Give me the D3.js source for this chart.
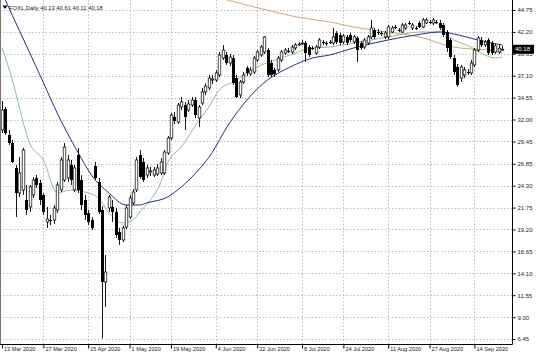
<!DOCTYPE html>
<html><head><meta charset="utf-8">
<script src="https://cdn.jsdelivr.net/npm/d3@7"></script>
<style>body{margin:0;background:#fff}svg{display:block}text{font-family:"Liberation Sans",Arial,sans-serif}</style>
</head><body><svg id="c" width="536" height="357"></svg>
<script>
const symbolTitle = "FOXL,Daily";
const lastOHLC = ["40.13","40.61","40.11","40.18"];
const open = [30.78,33.22,30.20,29.27,26.36,23.45,23.80,22.63,21.82,23.22,
25.19,24.61,23.22,20.07,20.31,20.31,21.47,23.80,24.96,25.19,
26.71,23.80,27.87,24.96,22.63,21.12,20.31,26.59,24.73,21.47,
13.09,21.70,21.82,21.24,18.91,17.98,19.49,20.65,22.29,23.80,
27.87,27.06,25.54,25.89,25.54,25.66,25.78,25.78,28.10,29.85,
32.30,31.71,33.46,33.69,33.11,33.69,34.27,32.18,33.92,35.21,
35.68,36.60,36.60,37.18,39.16,39.51,38.58,39.16,36.83,34.86,
36.37,38.00,37.30,37.53,38.93,39.51,39.86,40.09,38.58,37.77,
37.77,38.93,39.74,39.98,39.86,40.33,40.68,40.79,40.91,40.44,
40.33,39.74,40.44,41.03,40.91,41.03,40.91,42.07,41.84,41.03,
41.61,41.84,41.03,41.49,40.91,40.44,40.91,41.61,42.42,42.19,
42.07,41.61,41.61,42.19,42.77,42.42,42.19,42.65,43.24,42.65,
42.65,43.24,42.77,43.24,43.35,43.24,43.35,43.24,43.00,42.19,
41.26,39.16,38.12,36.83,37.18,37.53,37.42,38.35,40.09,41.26,
40.68,41.26,40.91,39.86,39.86,40.13];
const high = [34.16,33.46,30.78,29.62,26.71,27.64,28.69,24.38,24.38,25.31,
25.54,24.96,23.45,21.82,20.89,22.05,24.73,27.64,29.27,27.87,
27.29,26.71,28.69,25.54,23.22,21.47,20.65,27.06,25.19,21.94,
16.23,23.22,22.63,21.70,19.38,19.61,22.05,23.22,23.91,27.64,
28.45,27.52,26.71,26.48,26.48,26.82,27.52,28.45,30.08,32.75,
32.88,33.92,34.62,34.04,34.27,34.62,34.62,33.69,35.68,36.25,
37.18,37.18,37.77,39.86,40.68,39.86,39.63,39.51,37.18,36.60,
37.53,38.23,38.12,39.40,40.09,40.68,41.72,40.33,38.93,38.00,
39.40,40.09,40.33,40.33,40.68,40.91,41.03,41.26,41.14,40.68,
40.56,40.68,41.49,41.26,41.14,41.26,42.65,42.30,42.07,41.96,
41.84,42.07,41.84,41.72,41.14,41.49,41.84,43.59,42.65,42.54,
42.30,42.30,43.00,42.89,43.00,42.65,43.24,43.24,43.47,43.24,
42.89,43.47,43.82,43.82,43.59,43.82,43.59,43.59,43.24,42.42,
41.49,39.51,38.46,38.35,38.12,37.88,38.93,40.33,41.72,41.61,
41.26,41.49,41.14,40.79,40.79,40.61];
const low = [30.43,30.20,29.04,26.94,20.65,22.98,23.22,20.89,21.24,22.87,
24.03,22.05,20.89,19.38,19.72,19.84,21.12,23.56,24.73,24.73,
24.38,23.56,23.45,21.47,20.31,19.72,19.14,24.96,21.00,6.50,
10.18,21.24,20.07,18.21,17.40,17.75,19.26,20.42,22.05,23.56,
25.08,24.73,25.19,25.43,25.31,25.43,25.54,25.54,27.87,29.62,
31.48,31.48,33.11,30.78,32.88,33.46,32.18,31.13,33.69,34.86,
35.44,36.14,36.37,36.95,38.93,38.35,38.23,36.02,34.51,34.51,
36.14,37.07,37.07,37.30,38.70,39.28,39.63,36.95,36.95,36.95,
37.53,38.70,39.51,39.74,39.63,40.09,40.56,40.68,38.70,39.28,
40.09,39.51,40.21,40.68,40.56,40.79,40.68,40.79,40.68,40.79,
40.68,41.03,40.79,38.70,40.09,40.21,40.68,41.37,41.37,41.84,
41.72,41.37,41.37,42.07,42.54,42.19,42.07,42.42,43.00,42.42,
42.42,42.65,42.65,43.12,43.12,43.00,43.12,42.42,41.61,39.86,
39.05,37.18,35.79,36.37,36.83,37.18,37.18,38.12,39.86,40.44,
40.44,39.51,39.51,39.63,39.63,40.11];
const close = [33.11,30.43,29.27,27.06,23.45,25.78,28.45,21.47,24.15,24.96,
24.38,22.63,21.24,20.42,20.19,21.70,24.38,27.29,28.80,27.29,
24.96,26.36,23.80,22.05,20.89,20.07,19.38,25.19,21.24,13.09,
14.25,22.98,21.24,18.56,17.98,19.38,21.70,22.87,23.56,27.29,
25.31,24.96,26.36,26.01,26.13,26.36,27.06,28.22,29.85,32.53,
31.83,33.69,34.04,32.30,33.81,34.27,32.53,33.46,35.21,35.90,
36.83,36.72,37.42,39.51,40.09,38.58,39.28,36.25,34.62,36.37,
37.18,37.42,37.77,39.16,39.86,40.44,41.61,37.18,37.18,37.30,
39.16,39.86,40.09,39.95,40.44,40.68,40.79,40.91,39.74,39.51,
40.30,40.44,41.26,40.91,40.79,41.00,41.61,41.03,40.91,41.72,
40.91,41.26,41.61,40.09,40.33,41.26,41.61,42.65,41.61,42.15,
42.05,42.07,42.77,42.65,42.75,42.40,43.00,43.00,43.22,43.00,
42.63,42.77,43.59,43.59,43.33,43.59,43.22,42.65,41.84,40.33,
39.28,37.53,36.02,38.12,37.77,37.42,38.58,40.09,41.49,40.68,
41.03,39.74,39.74,40.56,40.30,40.18];

const blueIdx = [0,1,9,12,16,22,26,31,36,40,42,48,52,57,60,66,71,77,83,90,95,102,112,120,127,131,138,145];
const blueVal = [46.8,45.9,38.93,36.3,32.76,28.2,25.5,23.45,22.05,22.05,22.29,22.98,24.15,26.13,27.6,31.6,34.27,36.6,38.0,39.16,39.51,40.33,41.26,41.84,42.19,41.96,41.26,40.68];
const greenIdx = [0,3,5,8,12,16,20,25,28,31,35,38,40,43,46,48,52,57,60,63,67,74,81,86,90,95,102,112,121,127,131,136,139,143,145];
const greenVal = [40.33,36.6,33.46,29.27,27.29,23.45,23.8,23.45,22.87,21.12,19.96,20.31,21.24,22.63,24.61,26.94,28.8,31.83,33.46,35.44,36.37,38.12,39.16,39.86,40.33,40.44,40.91,41.61,42.19,42.19,41.26,40.44,39.74,39.16,39.28];
const tanIdx = [62,66,77,86,95,102,112,121,131,141,145];
const tanVal = [46.3,45.85,44.72,43.9,43.35,42.77,42.17,41.62,40.42,40.08,39.86];

const yTicks = [44.75,42.20,39.65,37.10,34.55,32.00,29.45,26.85,24.30,21.75,19.20,16.65,14.10,11.55,9.00,6.45];
const xTickIdx = [0,12,25,37,49,62,74,87,99,112,124,137];
const xTickLabels = ["13 Mar 2020","27 Mar 2020","15 Apr 2020","1 May 2020","19 May 2020","4 Jun 2020","22 Jun 2020","8 Jul 2020","24 Jul 2020","11 Aug 2020","27 Aug 2020","14 Sep 2020"];

const svg = d3.select("#c");
const plotR = 512, plotB = 344;
const x = d3.scaleLinear().domain([0, 145]).range([2, 502]);
const y = d3.scaleLinear().domain([6.45, 44.75]).range([339, 10]);

svg.append("defs").append("clipPath").attr("id","pc").append("rect")
  .attr("x",0).attr("y",0).attr("width",plotR).attr("height",plotB);

// grid
const grid = svg.append("g").attr("stroke","#bdbdbd").attr("stroke-dasharray","1.5,2").attr("stroke-width",1);
yTicks.forEach(v=>{const yy=Math.round(y(v))+0.5; grid.append("line").attr("x1",0).attr("x2",plotR).attr("y1",yy).attr("y2",yy);});
xTickIdx.slice(1).forEach(i=>{const xx=Math.round(x(i))+0.5; grid.append("line").attr("x1",xx).attr("x2",xx).attr("y1",0).attr("y2",plotB);});

const plot = svg.append("g").attr("clip-path","url(#pc)");

// moving averages
function maLine(idx, val, color){
  const pts = idx.map((d,i)=>[x(d), y(val[i])]);
  plot.append("path").attr("d", d3.line().curve(d3.curveMonotoneX)(pts))
    .attr("fill","none").attr("stroke",color).attr("stroke-width",1);
}
maLine(tanIdx, tanVal, "#cfa57c");
maLine(greenIdx, greenVal, "#8cbf8c");
maLine(blueIdx, blueVal, "#2a2a84");

// candles
const n = close.length;
const cg = plot.append("g");
for(let i=0;i<n;i++){
  const cx = Math.round(x(i));
  cg.append("line").attr("x1",cx+0.5).attr("x2",cx+0.5)
    .attr("y1",y(high[i])).attr("y2",y(low[i])).attr("stroke","#000").attr("stroke-width",0.9);
  const bull = close[i] >= open[i];
  const top = y(Math.max(open[i],close[i])), bot = y(Math.min(open[i],close[i]));
  const h = Math.max(bot-top, 1);
  if(bull){
    cg.append("rect").attr("x",cx-0.8).attr("y",top).attr("width",2.6).attr("height",h)
      .attr("fill","#fff").attr("stroke","#000").attr("stroke-width",0.7);
  } else {
    cg.append("rect").attr("x",cx-1).attr("y",top).attr("width",3).attr("height",h).attr("fill","#000");
  }
}

// frame
svg.append("line").attr("x1",0.5).attr("x2",0.5).attr("y1",0).attr("y2",plotB).attr("stroke","#777");

// axes
const yAxis = d3.axisRight(y).tickValues(yTicks).tickSize(3).tickPadding(2).tickFormat(d3.format(".2f"));
const ya = svg.append("g").attr("transform",`translate(${plotR+0.5},0)`).call(yAxis);
ya.select(".domain").remove();
ya.selectAll("text").attr("font-size",6).attr("fill","#222").attr("font-family","Liberation Sans, Arial, sans-serif");
svg.append("line").attr("x1",plotR+0.5).attr("x2",plotR+0.5).attr("y1",0).attr("y2",plotB+0.5).attr("stroke","#000");

const xAxis = d3.axisBottom(x).tickValues(xTickIdx).tickSize(4).tickFormat((d,i)=>xTickLabels[i]);
const xa = svg.append("g").attr("transform",`translate(0,${plotB+0.5})`).call(xAxis);
xa.select(".domain").remove();
xa.selectAll("text").attr("font-size",5.6).attr("fill","#222").attr("text-anchor","start").attr("dx",1.5).attr("dy",-1)
  .attr("font-family","Liberation Sans, Arial, sans-serif");
svg.append("line").attr("x1",0).attr("x2",plotR+0.5).attr("y1",plotB+0.5).attr("y2",plotB+0.5).attr("stroke","#000");

// current price box
const lp = close[n-1];
svg.append("rect").attr("x",plotR+1).attr("y",y(lp)-4.5).attr("width",21).attr("height",9).attr("fill","#000");
svg.append("text").attr("x",plotR+3).attr("y",y(lp)+2.2).attr("fill","#fff").attr("font-size",6).text(d3.format(".2f")(lp));

// title
svg.append("path").attr("d","M2.5,5.5 L7.5,5.5 L5,9 Z").attr("fill","#000");
svg.append("text").attr("x",9).attr("y",10).attr("font-size",5.8).attr("fill","#222")
  .text(symbolTitle + "  " + lastOHLC.join(" "));
</script></body></html>
